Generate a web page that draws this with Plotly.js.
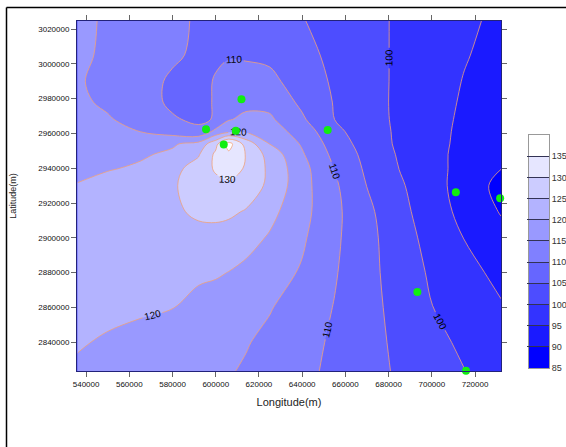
<!DOCTYPE html>
<html>
<head>
<meta charset="utf-8">
<script src="https://cdn.plot.ly/plotly-3.0.1.min.js"></script>
<style>html,body{margin:0;padding:0;background:#fff;}#chart{width:566px;height:447px;}</style>
</head>
<body>
<div id="chart"></div>
<script>
// Grid node coordinates (m)
var xNodes = [536000,550000,565000,580000,592000,600000,606000,614000,625000,640000,655000,670000,685000,700000,715000,732000];
var yNodes = [3025000,3005000,2990000,2978000,2968000,2961000,2954000,2948000,2940000,2930000,2915000,2900000,2880000,2860000,2840000,2823000];
// Gridded values, rows from north to south
var zRows = [
  [116.5,114.2,112.5,110.8,109.6,108.8,108.3,107.6,106.6,105.2,103.3,101.3,99.4,97.7,95.9,94.0],
  [116.3,113.9,112.2,110.6,109.3,109.4,109.7,109.3,109.0,106.5,103.8,101.5,99.3,97.3,95.3,93.5],
  [115.5,113.6,111.6,109.4,108.8,110.3,111.5,112.3,111.2,107.7,104.3,101.7,99.2,97.0,94.8,93.0],
  [116.0,114.1,111.7,109.3,109.0,110.3,112.0,113.8,113.5,109.0,104.7,101.8,99.1,96.7,94.5,92.5],
  [117.0,115.5,113.0,110.4,109.3,110.3,114.7,116.0,115.8,110.7,105.0,102.0,99.1,96.6,94.2,92.0],
  [117.5,116.5,115.0,113.0,111.0,116.5,119.0,119.5,117.5,112.9,106.3,102.3,99.2,96.5,94.0,91.5],
  [118.5,118.5,119.0,119.5,121.5,128.5,137.0,128.0,119.9,114.5,107.7,102.8,99.2,96.5,93.8,91.0],
  [119.0,119.2,119.5,120.7,124.5,131.0,134.0,129.8,123.0,115.5,108.7,103.5,99.5,96.5,93.5,90.5],
  [119.5,119.7,120.5,123.5,127.0,130.7,132.3,129.5,123.9,116.7,109.8,104.1,99.9,96.6,93.4,90.1],
  [120.1,121.4,123.0,124.5,127.0,128.5,129.0,128.0,123.9,116.8,110.8,104.9,100.7,96.8,93.0,88.5],
  [121.0,122.0,123.0,124.2,125.8,126.2,125.9,124.6,121.4,116.6,111.2,106.1,101.5,97.4,93.6,89.7],
  [122.0,122.5,123.0,123.5,123.5,123.3,122.8,121.8,119.5,115.7,110.9,106.5,102.2,98.3,94.9,91.5],
  [122.0,122.0,121.7,121.2,120.7,120.5,119.9,118.8,117.1,114.5,110.4,106.5,102.8,99.3,96.5,93.8],
  [121.5,121.1,120.7,120.1,118.8,117.9,117.3,116.5,115.3,112.7,109.8,106.6,103.4,100.1,97.5,95.4],
  [120.4,119.5,118.5,117.5,116.7,116.2,115.8,115.3,113.9,111.6,109.3,106.6,104.0,101.4,99.1,97.2],
  [119.3,118.6,118.0,117.0,116.2,115.7,115.3,114.5,113.1,111.1,109.0,106.6,104.4,102.2,100.1,98.0]
];
// Station locations
var stationX = [535900,595500,609300,611900,603700,651800,711100,731600,693300,715800];
var stationY = [3024800,2962400,2961600,2979600,2953700,2962000,2926200,2922700,2868900,2823600];
// Legend (colour key) class boundaries
var colorTicks = [85,90,95,100,105,110,115,120,125,130,135];
var keyTop = 140;

var yAsc = yNodes.slice().reverse();
var zAsc = zRows.slice().reverse();
var lineCol = '#f0a27a';
var FONT = 'Liberation Sans, Arial, sans-serif';
var cscale = [[0, 'rgb(0,0,255)'], [1, 'rgb(255,255,255)']];

var fill = {
  type: 'contour', x: xNodes, y: yAsc, z: zAsc,
  autocontour: false, showscale: false,
  contours: {start: 90, end: 135, size: 5, coloring: 'fill', showlines: false},
  colorscale: cscale,
  line: {width: 0, smoothing: 1},
  hoverinfo: 'skip'
};
var linesOdd = {
  type: 'contour', x: xNodes, y: yAsc, z: zAsc,
  autocontour: false, showscale: false,
  contours: {start: 95, end: 135, size: 10, coloring: 'none'},
  line: {width: 0.8, color: lineCol, smoothing: 1},
  hoverinfo: 'skip'
};
var line90 = {
  type: 'contour', x: xNodes, y: yAsc, z: zAsc,
  autocontour: false, showscale: false,
  contours: {start: 90, end: 90, size: 5, coloring: 'none'},
  line: {width: 0.8, color: lineCol, smoothing: 1},
  hoverinfo: 'skip'
};
// Labelled lines 100..130; the empty upper levels only tighten Plotly's label spacing
var labelled = {
  type: 'contour', x: xNodes, y: yAsc, z: zAsc,
  autocontour: false, showscale: false,
  contours: {start: 100, end: 500, size: 10, coloring: 'none', showlabels: true,
    labelfont: {family: FONT, size: 10, color: '#000'}},
  line: {width: 0.8, color: lineCol, smoothing: 1},
  hoverinfo: 'skip'
};
var stations = {
  type: 'scatter', mode: 'markers', x: stationX, y: stationY,
  marker: {color: '#11ee11', size: 8, line: {width: 0}},
  cliponaxis: false, showlegend: false, hoverinfo: 'skip'
};
// Colour key drawn as a one-column heatmap on its own small axes
var keyMid = colorTicks.map(function (v) { return v + 2.5; });
var key = {
  type: 'heatmap', xaxis: 'x2', yaxis: 'y2',
  x: [0.5], y: keyMid, z: keyMid.map(function (v) { return [v]; }),
  colorscale: cscale, zmin: keyMid[0], zmax: keyMid[keyMid.length - 1],
  showscale: false, hoverinfo: 'skip'
};

var axisCommon = {
  showline: true, linecolor: '#22227a', linewidth: 1, mirror: 'ticks',
  ticks: 'outside', ticklen: 5, tickcolor: '#666', tickwidth: 1,
  showgrid: false, zeroline: false, tickformat: 'd',
  tickfont: {family: FONT, size: 8, color: '#111'}
};

var W = 489; // plotting width in px (566 - left margin)
var layout = {
  width: 566, height: 447,
  margin: {l: 77, r: 0, t: 21, b: 76},
  paper_bgcolor: '#fff', plot_bgcolor: '#fff',
  showlegend: false,
  xaxis: Object.assign({}, axisCommon, {
    domain: [0, 424 / W],
    range: [535800, 732000], tick0: 540000, dtick: 20000,
    title: {text: 'Longitude(m)', font: {family: FONT, size: 11, color: '#222'}, standoff: 10}
  }),
  yaxis: Object.assign({}, axisCommon, {
    range: [2823500, 3024600], tick0: 2840000, dtick: 20000,
    title: {text: 'Latitude(m)', font: {family: FONT, size: 9, color: '#222'}, standoff: 20}
  }),
  xaxis2: {
    domain: [452 / W, 472 / W], anchor: 'y2', range: [0, 1],
    showticklabels: false, ticks: '', showgrid: false, zeroline: false,
    showline: true, mirror: true, linecolor: '#999', linewidth: 1
  },
  yaxis2: {
    domain: [3 / 350, 236 / 350], anchor: 'x2', side: 'right',
    range: [colorTicks[0], keyTop],
    tickvals: colorTicks, ticktext: colorTicks.map(String),
    ticks: 'inside', ticklen: 22, tickcolor: '#333355', tickwidth: 1,
    tickfont: {family: FONT, size: 9, color: '#333'},
    showgrid: false, zeroline: false,
    showline: true, mirror: true, linecolor: '#999', linewidth: 1
  },
  shapes: [
    {type: 'line', xref: 'paper', yref: 'paper', x0: -70.5 / W, x1: -70.5 / W, y0: 1.0386, y1: -0.25,
     line: {color: '#000', width: 1.5}},
    {type: 'line', xref: 'paper', yref: 'paper', x0: -70.5 / W, x1: 1.05, y0: 1.0386, y1: 1.0386,
     line: {color: '#000', width: 1.5}}
  ]
};

Plotly.newPlot('chart', [fill, linesOdd, line90, labelled, stations, key], layout,
  {displayModeBar: false, staticPlot: true});
</script>
</body>
</html>
